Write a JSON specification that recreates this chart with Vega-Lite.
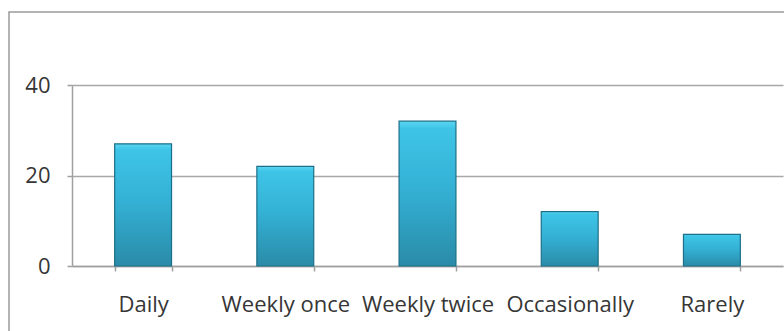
{
  "$schema": "https://vega.github.io/schema/vega-lite/v6.json",
  "autosize": "none",
  "padding": {"left": 9, "top": 12, "right": 0, "bottom": 0},
  "width": 800,
  "height": 340,
  "background": "#ffffff",
  "config": {
    "view": {"stroke": "#9a9a9a", "strokeWidth": 1.5},
    "font": "Open Sans"
  },
  "data": {
    "values": [
      {"frequency": "Daily", "count": 27},
      {"frequency": "Weekly once", "count": 22},
      {"frequency": "Weekly twice", "count": 32},
      {"frequency": "Occasionally", "count": 12},
      {"frequency": "Rarely", "count": 7}
    ]
  },
  "mark": {
    "type": "bar",
    "stroke": "#1d6f88",
    "strokeWidth": 1.2,
    "color": {
      "gradient": "linear",
      "x1": 0, "y1": 0, "x2": 0, "y2": 1,
      "stops": [
        {"offset": 0, "color": "#5ad6f2"},
        {"offset": 0.05, "color": "#3ec4e6"},
        {"offset": 0.45, "color": "#34b2d6"},
        {"offset": 1, "color": "#2a8ba8"}
      ]
    }
  },
  "encoding": {
    "x": {
      "field": "frequency",
      "type": "nominal",
      "sort": null,
      "scale": {"range": [63, 774], "paddingInner": 0.6, "paddingOuter": 0.3},
      "axis": {
        "title": null,
        "orient": "bottom",
        "offset": -86,
        "domainColor": "#a0a0a0",
        "domainWidth": 1.5,
        "tickColor": "#a0a0a0",
        "tickWidth": 1.5,
        "tickSize": 5,
        "tickBand": "extent",
        "labelAngle": 0,
        "labelFontSize": 22,
        "labelColor": "#363636",
        "labelPadding": 23,
        "labelOverlap": false,
        "labelLimit": 0,
        "labelBaseline": "top"
      }
    },
    "y": {
      "field": "count",
      "type": "quantitative",
      "scale": {"domain": [0, 40], "range": [254, 73], "nice": false},
      "axis": {
        "title": null,
        "orient": "left",
        "offset": -63,
        "values": [0, 20, 40],
        "grid": true,
        "gridColor": "#a8a8a8",
        "gridWidth": 1.5,
        "domainColor": "#a0a0a0",
        "domainWidth": 1.5,
        "tickColor": "#a0a0a0",
        "tickWidth": 1.5,
        "tickSize": 5,
        "labelFontSize": 22,
        "labelColor": "#363636",
        "labelPadding": 17
      }
    }
  }
}
